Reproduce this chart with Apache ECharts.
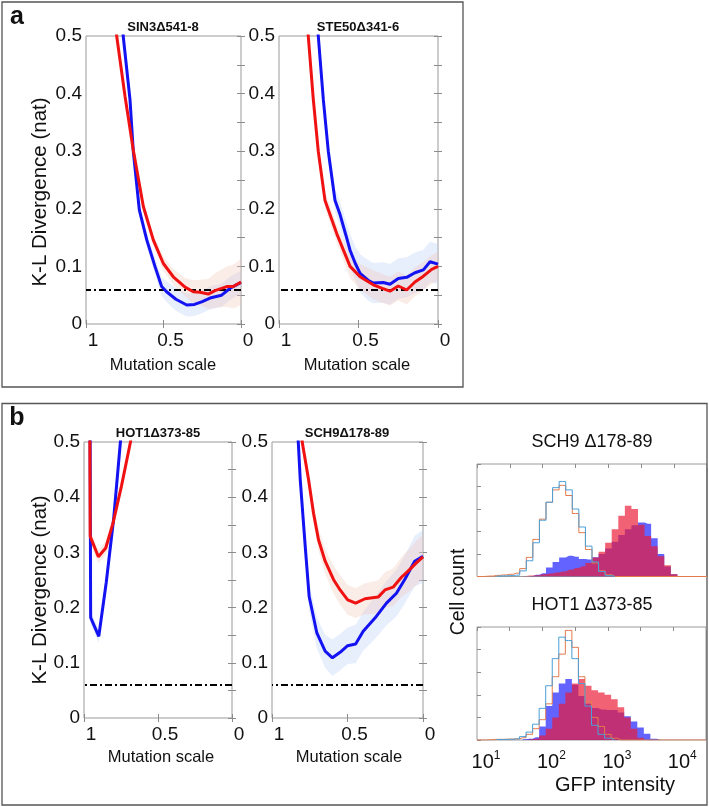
<!DOCTYPE html>
<html><head><meta charset="utf-8">
<script src="https://cdn.jsdelivr.net/npm/echarts@6/dist/echarts.min.js"></script>
<style>html,body{margin:0;padding:0;background:#fff}#c{width:709px;height:807px}</style>
</head><body><div id="c"></div>
<script>
// ---------------- DATA ----------------
// K-L divergence curves: [mutation scale, KL (nat)]
const sin3Blue = [[0.80,0.66],[0.76,0.50],[0.716,0.389],[0.695,0.30],[0.656,0.198],[0.608,0.146],[0.555,0.100],[0.512,0.065],[0.48,0.056],[0.42,0.043],[0.35,0.033],[0.30,0.034],[0.25,0.039],[0.20,0.045],[0.125,0.050],[0.07,0.062],[0.03,0.068],[0.0,0.072]];
const sin3BlueErr = [0.012,0.012,0.012,0.012,0.012,0.012,0.014,0.016,0.018,0.02,0.02,0.02,0.02,0.02,0.02,0.02,0.02,0.02];
const sin3Red = [[0.84,0.62],[0.802,0.50],[0.748,0.395],[0.695,0.302],[0.63,0.204],[0.566,0.146],[0.501,0.105],[0.437,0.082],[0.361,0.064],[0.308,0.056],[0.265,0.055],[0.211,0.052],[0.168,0.058],[0.092,0.065],[0.05,0.065],[0.0,0.073]];
const sin3RedErr = [0.01,0.01,0.01,0.01,0.01,0.01,0.012,0.014,0.016,0.02,0.022,0.026,0.03,0.035,0.038,0.04];

const ste50Blue = [[0.80,0.66],[0.753,0.50],[0.721,0.389],[0.69,0.30],[0.648,0.215],[0.616,0.19],[0.58,0.155],[0.553,0.128],[0.52,0.105],[0.49,0.088],[0.44,0.076],[0.407,0.071],[0.344,0.072],[0.302,0.069],[0.25,0.079],[0.197,0.081],[0.145,0.089],[0.092,0.094],[0.05,0.108],[0.0,0.104]];
const ste50BlueErr = [0.015,0.015,0.015,0.018,0.02,0.022,0.025,0.028,0.03,0.033,0.035,0.035,0.035,0.035,0.035,0.035,0.035,0.035,0.035,0.035];
const ste50Red = [[0.85,0.64],[0.816,0.50],[0.784,0.389],[0.753,0.30],[0.711,0.215],[0.637,0.157],[0.553,0.100],[0.49,0.082],[0.407,0.068],[0.35,0.062],[0.302,0.057],[0.25,0.066],[0.197,0.059],[0.145,0.073],[0.092,0.083],[0.04,0.095],[0.0,0.100]];
const ste50RedErr = [0.012,0.012,0.012,0.012,0.014,0.016,0.02,0.022,0.025,0.025,0.025,0.025,0.025,0.025,0.025,0.025,0.025];

const hot1Blue = [[0.96,0.62],[0.955,0.182],[0.90,0.148],[0.85,0.245],[0.80,0.36],[0.754,0.50],[0.72,0.60]];
const hot1BlueErr = [0.012,0.012,0.012,0.012,0.012,0.012,0.012];
const hot1Red = [[0.962,0.62],[0.958,0.329],[0.903,0.292],[0.853,0.308],[0.804,0.353],[0.747,0.42],[0.686,0.50],[0.65,0.56]];
const hot1RedErr = [0.012,0.012,0.012,0.012,0.012,0.012,0.012,0.012];

const sch9Blue = [[0.85,0.60],[0.826,0.50],[0.813,0.432],[0.78,0.311],[0.754,0.22],[0.703,0.154],[0.648,0.121],[0.60,0.109],[0.549,0.119],[0.499,0.131],[0.446,0.134],[0.396,0.157],[0.318,0.181],[0.242,0.208],[0.176,0.226],[0.121,0.251],[0.055,0.284],[0.0,0.293]];
const sch9BlueErr = [0.02,0.02,0.02,0.022,0.025,0.028,0.03,0.033,0.033,0.033,0.035,0.035,0.038,0.04,0.042,0.044,0.046,0.048];
const sch9Red = [[0.82,0.57],[0.80,0.50],[0.758,0.432],[0.725,0.371],[0.692,0.323],[0.648,0.284],[0.593,0.251],[0.549,0.232],[0.499,0.214],[0.446,0.208],[0.384,0.216],[0.297,0.219],[0.252,0.232],[0.198,0.237],[0.143,0.255],[0.099,0.266],[0.044,0.281],[0.0,0.292]];
const sch9RedErr = [0.015,0.015,0.016,0.018,0.02,0.022,0.025,0.027,0.027,0.027,0.028,0.03,0.032,0.034,0.036,0.038,0.04,0.04];

const klThreshold = 0.061;

// tick labels
const mutTickLabels = ['0','0.5','1'];          // at 0, 0.5, 1
const klTickLabels = ['0','0.1','0.2','0.3','0.4','0.5'];
const gfpExponents = ['1','2','3','4'];         // 10^1 .. 10^4

// GFP histograms: [log10 GFP intensity (bin centre), cell count (a.u.)]
const sch9CtrlBlue = [[1.3,0.02],[1.4,0.03],[1.5,0.04],[1.6,0.06],[1.7,0.25],[1.8,0.7],[1.9,1.5],[2.0,2.5],[2.1,3.3],[2.2,3.95],[2.3,4.22],[2.4,3.85],[2.5,3.0],[2.6,2.2],[2.7,1.35],[2.8,0.65],[2.9,0.22],[3.0,0.04],[3.1,0]];
const sch9CtrlOrange = [[1.0,0],[1.2,0.02],[1.3,0.05],[1.4,0.07],[1.5,0.1],[1.6,0.15],[1.7,0.35],[1.8,0.85],[1.9,1.65],[2.0,2.55],[2.1,3.3],[2.2,3.85],[2.3,4.05],[2.4,3.6],[2.5,2.8],[2.6,1.95],[2.7,1.2],[2.8,0.6],[2.9,0.25],[3.0,0.08],[3.1,0],[4.5,0]];
const sch9FillBlue = [[1.8,0.02],[1.9,0.08],[2.0,0.15],[2.1,0.4],[2.2,0.65],[2.3,0.85],[2.4,0.92],[2.5,0.88],[2.6,0.78],[2.7,0.76],[2.8,0.86],[2.9,1.0],[3.0,1.25],[3.1,1.55],[3.2,1.85],[3.3,2.1],[3.4,2.28],[3.5,2.4],[3.6,2.35],[3.7,1.7],[3.8,1.0],[3.9,0.45],[4.0,0.1],[4.1,0]];
const sch9FillRed = [[1.7,0.02],[1.8,0.04],[1.9,0.06],[2.0,0.1],[2.1,0.13],[2.2,0.18],[2.3,0.22],[2.4,0.3],[2.5,0.38],[2.6,0.46],[2.7,0.6],[2.8,0.85],[2.9,1.1],[3.0,1.5],[3.1,2.1],[3.2,2.7],[3.3,3.15],[3.4,3.0],[3.5,2.3],[3.6,1.8],[3.7,1.35],[3.8,0.9],[3.9,0.5],[4.0,0.1],[4.1,0]];

const hot1CtrlBlue = [[1.3,0.02],[1.5,0.03],[1.6,0.05],[1.7,0.15],[1.8,0.35],[1.9,0.7],[2.0,1.4],[2.1,2.4],[2.2,3.6],[2.3,4.55],[2.4,4.4],[2.5,3.6],[2.6,2.5],[2.7,1.5],[2.8,0.65],[2.9,0.25],[3.0,0.08],[3.1,0]];
const hot1CtrlOrange = [[1.0,0],[1.3,0.03],[1.5,0.04],[1.6,0.05],[1.7,0.1],[1.8,0.25],[1.9,0.5],[2.0,0.9],[2.1,1.6],[2.2,2.8],[2.3,3.8],[2.4,4.85],[2.5,4.1],[2.6,2.8],[2.7,1.7],[2.8,1.0],[2.9,0.6],[3.0,0.25],[3.1,0.08],[3.2,0],[4.5,0]];
const hot1FillBlue = [[1.7,0.03],[1.8,0.06],[1.9,0.12],[2.0,0.6],[2.1,1.5],[2.2,2.1],[2.3,2.5],[2.4,2.7],[2.5,2.45],[2.6,1.95],[2.7,1.6],[2.8,1.42],[2.9,1.35],[3.0,1.33],[3.1,1.33],[3.2,1.22],[3.3,1.05],[3.4,0.82],[3.5,0.55],[3.6,0.28],[3.7,0.05],[3.8,0]];
const hot1FillRed = [[1.8,0.03],[1.9,0.06],[2.0,0.2],[2.1,0.5],[2.2,1.0],[2.3,1.6],[2.4,2.1],[2.5,2.5],[2.6,2.7],[2.7,2.4],[2.8,2.2],[2.9,2.1],[3.0,2.0],[3.1,1.8],[3.2,1.45],[3.3,1.0],[3.4,0.5],[3.5,0.1],[3.6,0]];

// ---------------- CHART ----------------
const FNT = "'Liberation Sans', Arial, Helvetica, sans-serif";
const BLUE = '#1212f2', RED = '#f01212';
const BAND_B = 'rgba(185,205,245,0.34)', BAND_R = 'rgba(240,195,180,0.32)';
const TICK = '#8c8c8c';

const grids = [
  {left:86, top:36, width:155, height:288},   // SIN3
  {left:279, top:36, width:159, height:288},  // STE50
  {left:84, top:442, width:148, height:276},  // HOT1 KL
  {left:272, top:442, width:151, height:276}, // SCH9 KL
  {left:477, top:464, width:230, height:112.5}, // SCH9 hist
  {left:477, top:627, width:230, height:113}    // HOT1 hist
].map(g => Object.assign({show:true, borderColor:'#9a9a9a', borderWidth:1, backgroundColor:'transparent'}, g));

const xAxes = [], yAxes = [], series = [];

function tick(show){ return {show:show, inside:true, length:4, lineStyle:{color:TICK, width:1}}; }

function klPanel(gi, blue, blueErr, red, redErr) {
  const xb = xAxes.length;
  xAxes.push({gridIndex:gi, type:'value', min:0, max:1, interval:0.5, inverse:true, position:'bottom',
    axisLine:{show:false}, axisTick:tick(true), splitLine:{show:false},
    axisLabel:{show:true, fontSize:19, fontFamily:FNT, color:'#111', margin:7, padding:[0,0,0,14],
      formatter: v => mutTickLabels[Math.round(v*2)]}});
  xAxes.push({gridIndex:gi, type:'value', min:0, max:1, interval:0.5, inverse:true, position:'top',
    axisLine:{show:false}, axisTick:tick(true), splitLine:{show:false}, axisLabel:{show:false}});
  const yl = yAxes.length;
  const yBase = {gridIndex:gi, type:'value', min:0, max:0.5, interval:0.1, axisLine:{show:false},
    axisTick:tick(true), minorTick:{show:true, splitNumber:2, length:4, lineStyle:{color:TICK}}, splitLine:{show:false}, minorSplitLine:{show:false}};
  yAxes.push(Object.assign({}, yBase, {position:'left',
    axisLabel:{show:true, fontSize:19, fontFamily:FNT, color:'#111', margin:4, padding:[0,0,6,0],
      formatter: v => klTickLabels[Math.round(v*10)]}}));
  yAxes.push(Object.assign({}, yBase, {position:'right', axisLabel:{show:false}}));

  function band(data, err, col, z) {
    series.push({type:'custom', xAxisIndex:xb, yAxisIndex:yl, silent:true, z:z,
      data:[data[0]],
      renderItem: function (params, api) {
        const up = data.map((p,i)=>api.coord([p[0], p[1]+err[i]]));
        const lo = data.map((p,i)=>api.coord([p[0], p[1]-err[i]])).reverse();
        const cs = params.coordSys;
        return {type:'polygon', shape:{points: up.concat(lo)}, style:{fill:col},
          clipPath:{type:'rect', shape:{x:cs.x, y:cs.y, width:cs.width, height:cs.height}}};
      }});
  }
  band(blue, blueErr, BAND_B, 1);
  band(red, redErr, BAND_R, 2);
  series.push({type:'line', xAxisIndex:xb, yAxisIndex:yl, symbol:'none', data:blue,
    lineStyle:{color:BLUE, width:3}, z:5});
  series.push({type:'line', xAxisIndex:xb, yAxisIndex:yl, symbol:'none', data:red,
    lineStyle:{color:RED, width:3}, z:6,
    markLine:{silent:true, symbol:['none','none'], label:{show:false}, animation:false,
      lineStyle:{color:'#000', width:1.8, type:[7,3,2,3]}, data:[{yAxis:klThreshold}]}});
}

klPanel(0, sin3Blue, sin3BlueErr, sin3Red, sin3RedErr);
klPanel(1, ste50Blue, ste50BlueErr, ste50Red, ste50RedErr);
klPanel(2, hot1Blue, hot1BlueErr, hot1Red, hot1RedErr);
klPanel(3, sch9Blue, sch9BlueErr, sch9Red, sch9RedErr);

function histPanel(gi, ctrlBlue, ctrlOrange, fillBlue, fillRed, withLabels) {
  const xb = xAxes.length;
  xAxes.push({gridIndex:gi, type:'value', min:1, max:4.5, interval:0.5, position:'bottom',
    axisLine:{show:false}, axisTick:{show:false}, splitLine:{show:false},
    axisLabel:{show:withLabels, fontSize:20, fontFamily:FNT, color:'#111', margin:10, padding:[0,0,0,18],
      formatter: v => Number.isInteger(v) ? '{b|10}{s|' + gfpExponents[v-1] + '}' : '',
      rich:{b:{fontSize:20, fontFamily:FNT, color:'#111', lineHeight:24}, s:{fontSize:12, fontFamily:FNT, color:'#111', lineHeight:12, verticalAlign:'top'}}}});
  xAxes.push({gridIndex:gi, type:'value', min:1, max:4.5, interval:0.5, position:'top',
    axisLine:{show:false}, axisTick:tick(true), splitLine:{show:false}, axisLabel:{show:false}});
  const yl = yAxes.length;
  yAxes.push({gridIndex:gi, type:'value', min:0, max:5, interval:1, position:'left',
    axisLine:{show:false}, axisTick:tick(true), splitLine:{show:false}, axisLabel:{show:false}});
  const common = {type:'line', xAxisIndex:xb, yAxisIndex:yl, symbol:'none', step:'middle', silent:true};
  series.push(Object.assign({}, common, {data:fillBlue, lineStyle:{width:0, opacity:0},
    areaStyle:{color:'rgba(25,25,255,0.68)', opacity:1}, z:2}));
  series.push(Object.assign({}, common, {data:fillRed, lineStyle:{width:0, opacity:0},
    areaStyle:{color:'rgba(235,25,50,0.68)', opacity:1}, z:3}));
  series.push(Object.assign({}, common, {data:ctrlOrange, lineStyle:{color:'#e37a4c', width:1}, z:4}));
  series.push(Object.assign({}, common, {data:ctrlBlue, lineStyle:{color:'#4a9fd8', width:1}, z:5}));
}
histPanel(4, sch9CtrlBlue, sch9CtrlOrange, sch9FillBlue, sch9FillRed, false);
histPanel(5, hot1CtrlBlue, hot1CtrlOrange, hot1FillBlue, hot1FillRed, true);

function txt(text, x, y, size, opt) {
  return Object.assign({type:'text', x:x, y:y, silent:true,
    style:Object.assign({text:text, fontSize:size, fontFamily:FNT, fill:'#111', align:'center', verticalAlign:'middle'}, (opt&&opt.style)||{})},
    opt && opt.rotation ? {rotation:opt.rotation} : {});
}
const R90 = Math.PI/2;
const graphic = [
  {type:'rect', shape:{x:2, y:2, width:461, height:385}, style:{fill:'none', stroke:'#555', lineWidth:1.3}, silent:true},
  {type:'rect', shape:{x:2, y:403.5, width:705, height:401.5}, style:{fill:'none', stroke:'#555', lineWidth:1.3}, silent:true},
  txt('a', 17, 17, 25, {style:{fontWeight:'bold'}}),
  txt('b', 17, 418, 25, {style:{fontWeight:'bold'}}),
  txt('SIN3Δ541-8', 163, 27, 13, {style:{fontWeight:'bold'}}),
  txt('STE50Δ341-6', 358, 27, 13, {style:{fontWeight:'bold'}}),
  txt('HOT1Δ373-85', 158, 433, 13, {style:{fontWeight:'bold'}}),
  txt('SCH9Δ178-89', 347, 433, 13, {style:{fontWeight:'bold'}}),
  txt('K-L Divergence (nat)', 40, 192, 20.5, {rotation:R90}),
  txt('K-L Divergence (nat)', 40, 590, 20.5, {rotation:R90}),
  txt('Mutation scale', 163, 365, 16.5),
  txt('Mutation scale', 357, 365, 16.5),
  txt('Mutation scale', 161, 757, 16.5),
  txt('Mutation scale', 349, 757, 16.5),
  txt('SCH9 Δ178-89', 592, 442, 18),
  txt('HOT1 Δ373-85', 592, 605, 18),
  txt('Cell count', 459, 592, 19.5, {rotation:R90}),
  txt('GFP intensity', 615, 785, 20)
];

const chart = echarts.init(document.getElementById('c'), null, {renderer:'canvas'});
chart.setOption({animation:false, backgroundColor:'#fff', grid:grids, xAxis:xAxes, yAxis:yAxes, series:series, graphic:graphic});
</script></body></html>
